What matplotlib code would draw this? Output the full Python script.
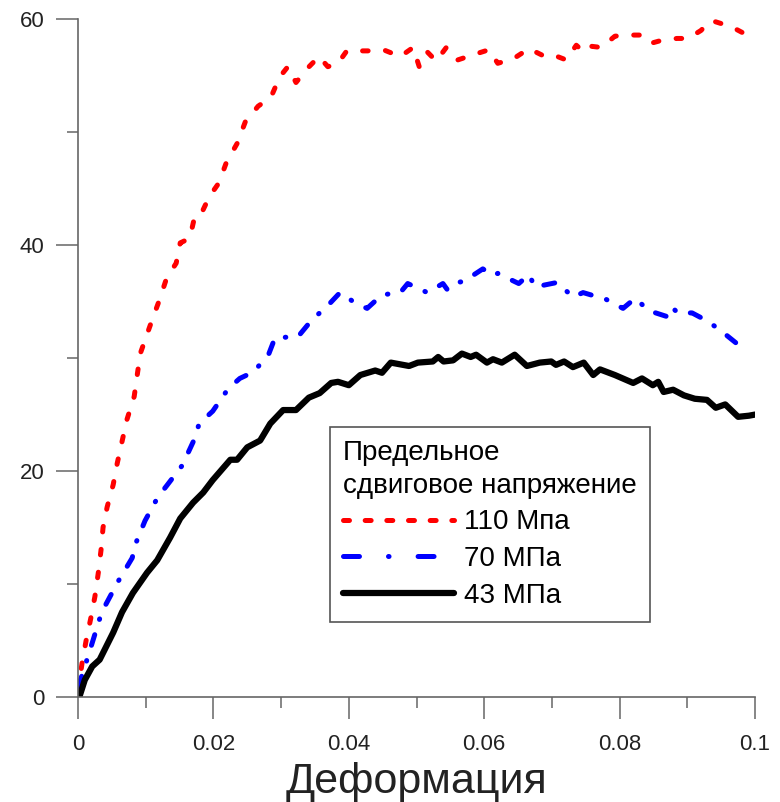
import matplotlib

matplotlib.use("Agg")
import matplotlib.pyplot as plt
from matplotlib.lines import Line2D
from matplotlib.ticker import FixedLocator, FuncFormatter

plt.rcParams["font.family"] = ["Liberation Sans", "DejaVu Sans"]
plt.rcParams["lines.scale_dashes"] = False

# 110 MPa
strain_110 = [
    0.0000, 0.0006, 0.0012, 0.0019, 0.0025, 0.0030, 0.0034, 0.0037, 0.0043,
    0.0052, 0.0058, 0.0065, 0.0072, 0.0083, 0.0087, 0.0092, 0.0099, 0.0109,
    0.0120, 0.0131, 0.0145, 0.0151, 0.0165, 0.0173, 0.0183, 0.0194, 0.0208,
    0.0219, 0.0235, 0.0247, 0.0266, 0.0285, 0.0298, 0.0310, 0.0322, 0.0338,
    0.0356, 0.0369, 0.0384, 0.0397, 0.0417, 0.0428, 0.0451, 0.0476, 0.0495,
    0.0504, 0.0516, 0.0529, 0.0544, 0.0561, 0.0586, 0.0607, 0.0620, 0.0643,
    0.0666, 0.0693, 0.0708, 0.0721, 0.0736, 0.0747, 0.0759, 0.0773, 0.0793,
    0.0812, 0.0836, 0.0848, 0.0866, 0.0885, 0.0901, 0.0920, 0.0935, 0.0951,
    0.0963, 0.0982,
]
stress_110 = [
    0.5, 3.0, 5.0, 7.0, 8.9, 11.0, 13.0, 15.0, 16.8,
    18.8, 20.7, 22.6, 24.5, 26.6, 28.3, 30.4, 31.6, 33.3,
    35.1, 37.1, 38.4, 40.2, 40.6, 42.7, 42.9, 44.3, 45.5,
    47.3, 49.0, 50.9, 52.3, 53.1, 54.9, 55.8, 54.4, 55.6,
    56.7, 55.8, 56.1, 57.2, 57.2, 57.2, 57.3, 56.7, 57.5,
    55.8, 57.1, 56.3, 57.5, 56.4, 56.9, 57.3, 56.1, 56.5,
    57.4, 56.6, 56.7, 56.4, 57.7, 57.1, 57.6, 57.5, 58.5,
    58.6, 58.6, 57.9, 58.2, 58.3, 58.3, 59.0, 59.9, 59.6,
    59.4, 58.8,
]

# 70 MPa
strain_70 = [
    0.0000, 0.0007, 0.0019, 0.0035, 0.0059, 0.0080, 0.0086, 0.0099, 0.0118,
    0.0131, 0.0154, 0.0171, 0.0179, 0.0199, 0.0222, 0.0239, 0.0260, 0.0282,
    0.0291, 0.0325, 0.0347, 0.0365, 0.0387, 0.0409, 0.0427, 0.0449, 0.0476,
    0.0487, 0.0516, 0.0539, 0.0545, 0.0552, 0.0570, 0.0598, 0.0612, 0.0620,
    0.0651, 0.0666, 0.0675, 0.0708, 0.0731, 0.0746, 0.0780, 0.0805, 0.0823,
    0.0843, 0.0874, 0.0879, 0.0886, 0.0907, 0.0929, 0.0948, 0.0979,
]
stress_70 = [
    0.9, 2.1, 4.4, 7.5, 10.2, 12.3, 13.7, 15.6, 17.7,
    18.7, 20.5, 22.7, 24.2, 25.3, 27.3, 28.2, 28.8, 30.4,
    31.8, 31.9, 33.5, 34.4, 35.8, 34.9, 34.4, 35.6, 35.8,
    36.6, 35.8, 36.6, 36.1, 36.6, 36.8, 37.9, 37.3, 37.5,
    36.6, 37.4, 36.3, 36.7, 35.4, 35.8, 35.2, 34.4, 35.3,
    34.2, 33.6, 34.4, 34.0, 34.0, 33.3, 32.5, 31.0,
]

# 43 MPa
strain_43 = [
    0.0002, 0.0010, 0.0021, 0.0032, 0.0052, 0.0065, 0.0081, 0.0102, 0.0117,
    0.0136, 0.0151, 0.0170, 0.0185, 0.0199, 0.0225, 0.0235, 0.0250, 0.0269,
    0.0284, 0.0303, 0.0322, 0.0341, 0.0357, 0.0374, 0.0384, 0.0400, 0.0417,
    0.0439, 0.0449, 0.0462, 0.0489, 0.0502, 0.0524, 0.0532, 0.0540, 0.0554,
    0.0567, 0.0580, 0.0588, 0.0604, 0.0613, 0.0626, 0.0645, 0.0663, 0.0682,
    0.0699, 0.0706, 0.0718, 0.0731, 0.0747, 0.0761, 0.0771, 0.0793, 0.0820,
    0.0833, 0.0849, 0.0857, 0.0865, 0.0879, 0.0895, 0.0911, 0.0929, 0.0942,
    0.0956, 0.0975, 0.0991, 0.1000,
]
stress_43 = [
    0.0, 1.5, 2.7, 3.3, 5.7, 7.5, 9.2, 11.0, 12.1,
    14.1, 15.8, 17.2, 18.1, 19.2, 21.0, 21.0, 22.1, 22.7,
    24.2, 25.4, 25.4, 26.5, 26.9, 27.8, 27.9, 27.6, 28.5,
    28.9, 28.7, 29.6, 29.3, 29.6, 29.7, 30.1, 29.7, 29.8,
    30.4, 30.1, 30.3, 29.6, 29.9, 29.6, 30.3, 29.3, 29.6,
    29.7, 29.4, 29.7, 29.2, 29.6, 28.5, 29.0, 28.5, 27.8,
    28.2, 27.6, 27.9, 27.0, 27.2, 26.7, 26.4, 26.3, 25.6,
    25.9, 24.8, 24.9, 25.0,
]

legend_title = "Предельное\nсдвиговое напряжение"
series_labels = ["110 Мпа", "70 МПа", "43 МПа"]
x_ticks = [0, 0.02, 0.04, 0.06, 0.08, 0.1]
x_tick_labels = ["0", "0.02", "0.04", "0.06", "0.08", "0.1"]
y_ticks = [0, 20, 40, 60]

red_dash = (0, (4.0, 12.6))
blue_dash = (0, (8.0, 11.5, 0.4, 11.5))

fig = plt.figure(figsize=(7.8, 8.02), dpi=100)
ax = fig.add_axes([0.1, 0.131, 0.868, 0.845])

ax.plot(strain_110, stress_110, color="#ff0000", lw=3.6,
        linestyle=red_dash, dash_capstyle="round")
ax.plot(strain_70, stress_70, color="#0000ff", lw=3.6,
        linestyle=blue_dash, dash_capstyle="round")
ax.plot(strain_43, stress_43, color="black", lw=4.5,
        solid_capstyle="round", solid_joinstyle="round")

ax.set_xlim(0, 0.1)
ax.set_ylim(0, 60)
for side in ("top", "right"):
    ax.spines[side].set_visible(False)
for side in ("left", "bottom"):
    ax.spines[side].set_color("#666666")
    ax.spines[side].set_linewidth(1.2)

ax.xaxis.set_major_locator(FixedLocator(x_ticks))
ax.xaxis.set_major_formatter(FuncFormatter(lambda v, pos: x_tick_labels[pos]))
ax.xaxis.set_minor_locator(FixedLocator([0.01, 0.03, 0.05, 0.07, 0.09]))
ax.yaxis.set_major_locator(FixedLocator(y_ticks))
ax.yaxis.set_minor_locator(FixedLocator([10, 30, 50]))
ax.tick_params(which="major", direction="out", length=16, width=1.1,
               color="#666666", labelsize=16, pad=8, labelcolor="#222222")
ax.tick_params(which="minor", direction="out", length=8, width=1.1,
               color="#666666")
ax.tick_params(axis="x", which="major", pad=11)

# axis title sits on a fixed baseline just above the bottom edge
xlabel = ax.set_xlabel("Деформация", fontsize=31, color="#222222")
ax.xaxis.set_label_coords(0.5, -0.1416)
xlabel.set_verticalalignment("baseline")

handles = [
    Line2D([], [], color="#ff0000", lw=3.6, linestyle=(0, (4.3, 11.3)),
           dash_capstyle="round"),
    Line2D([], [], color="#0000ff", lw=3.6,
           linestyle=(0, (11.5, 20.9, 0.4, 20.9)), dash_capstyle="round"),
    Line2D([], [], color="black", lw=4.5, solid_capstyle="round"),
]
leg = ax.legend(handles, series_labels, title=legend_title,
                loc="lower left", bbox_to_anchor=(0.372, 0.111),
                borderaxespad=0, fontsize=20, title_fontsize=20,
                alignment="left", handlelength=4.0, handletextpad=0.36,
                labelspacing=0.38, borderpad=0.475, fancybox=False,
                framealpha=1, edgecolor="#555555")
leg.get_title().set_linespacing(1.35)
leg.get_frame().set_linewidth(1.2)

fig.savefig("out.png", dpi=100)
